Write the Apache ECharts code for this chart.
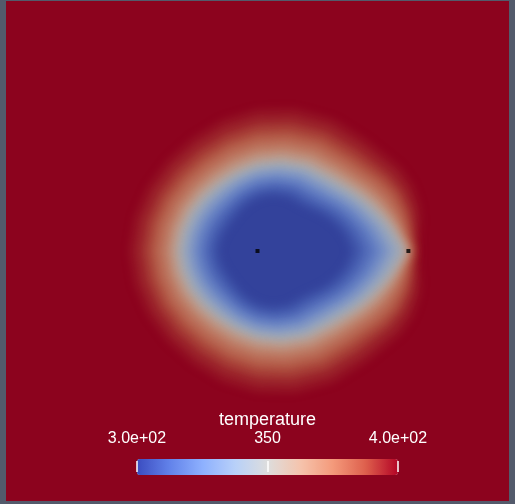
<!DOCTYPE html>
<html><head><meta charset="utf-8">
<style>html,body{margin:0;padding:0;background:#535a6b}#c{width:515px;height:504px}</style>
<script src="https://cdn.jsdelivr.net/npm/echarts@6/dist/echarts.min.js"></script>
</head><body><div id="c"></div>
<script>
// Contour angles (degrees, counter-clockwise from +x, around the domain centre)
const ANGLES = [0,5,10,15,22.5,30,45,60,75,90,105,120,135,150,165,180,195,210,225,240,255,270,285,300,315,330,337.5,345,350,355];
// Contour radii (domain units), one list per temperature level
const r398 = [0.322,0.322,0.329,0.334,0.334,0.328,0.308,0.301,0.291,0.280,0.268,0.257,0.252,0.251,0.252,0.254,0.252,0.251,0.252,0.257,0.268,0.280,0.291,0.301,0.308,0.328,0.334,0.334,0.329,0.322];
const r393 = [0.315,0.312,0.315,0.316,0.313,0.304,0.284,0.276,0.266,0.255,0.243,0.233,0.229,0.228,0.229,0.231,0.229,0.228,0.229,0.233,0.243,0.255,0.266,0.276,0.284,0.304,0.313,0.316,0.315,0.312];
const r387 = [0.310,0.305,0.305,0.305,0.300,0.288,0.266,0.258,0.247,0.236,0.224,0.215,0.211,0.211,0.212,0.214,0.212,0.211,0.211,0.215,0.224,0.236,0.247,0.258,0.266,0.288,0.300,0.305,0.305,0.305];
const r381 = [0.306,0.299,0.297,0.294,0.287,0.274,0.252,0.243,0.232,0.221,0.210,0.201,0.198,0.198,0.199,0.201,0.199,0.198,0.198,0.201,0.210,0.221,0.232,0.243,0.252,0.274,0.287,0.294,0.297,0.299];
const r374 = [0.302,0.293,0.288,0.282,0.271,0.258,0.236,0.227,0.216,0.204,0.193,0.185,0.182,0.182,0.183,0.185,0.183,0.182,0.182,0.185,0.193,0.204,0.216,0.227,0.236,0.258,0.271,0.282,0.288,0.293];
const r367 = [0.299,0.288,0.281,0.273,0.260,0.246,0.224,0.215,0.203,0.192,0.181,0.173,0.170,0.171,0.172,0.174,0.172,0.171,0.170,0.173,0.181,0.192,0.203,0.215,0.224,0.246,0.260,0.273,0.281,0.288];
const r360 = [0.296,0.284,0.275,0.265,0.251,0.236,0.214,0.204,0.193,0.181,0.170,0.163,0.161,0.161,0.163,0.165,0.163,0.161,0.161,0.163,0.170,0.181,0.193,0.204,0.214,0.236,0.251,0.265,0.275,0.284];
const r350 = [0.293,0.280,0.269,0.257,0.241,0.226,0.204,0.194,0.182,0.171,0.160,0.153,0.151,0.152,0.153,0.155,0.153,0.152,0.151,0.153,0.160,0.171,0.182,0.194,0.204,0.226,0.241,0.257,0.269,0.280];
const r342 = [0.279,0.267,0.257,0.246,0.230,0.216,0.194,0.185,0.173,0.162,0.151,0.144,0.141,0.142,0.143,0.145,0.143,0.142,0.141,0.144,0.151,0.162,0.173,0.185,0.194,0.216,0.230,0.246,0.257,0.267];
const r335 = [0.265,0.254,0.245,0.234,0.220,0.205,0.184,0.176,0.165,0.154,0.143,0.135,0.132,0.132,0.133,0.135,0.133,0.132,0.132,0.135,0.143,0.154,0.165,0.176,0.184,0.205,0.220,0.234,0.245,0.254];
const r328 = [0.252,0.242,0.233,0.223,0.209,0.195,0.174,0.166,0.156,0.145,0.134,0.125,0.122,0.122,0.123,0.125,0.123,0.122,0.122,0.125,0.134,0.145,0.156,0.166,0.174,0.195,0.209,0.223,0.233,0.242];
const r320 = [0.235,0.226,0.219,0.209,0.196,0.183,0.162,0.155,0.145,0.135,0.123,0.114,0.110,0.110,0.111,0.113,0.111,0.110,0.110,0.114,0.123,0.135,0.145,0.155,0.162,0.183,0.196,0.209,0.219,0.226];
const r312 = [0.213,0.206,0.199,0.191,0.179,0.166,0.146,0.141,0.132,0.121,0.110,0.100,0.095,0.094,0.095,0.097,0.095,0.094,0.095,0.100,0.110,0.121,0.132,0.141,0.146,0.166,0.179,0.191,0.199,0.206];
const r305 = [0.191,0.185,0.180,0.173,0.162,0.150,0.130,0.126,0.118,0.108,0.096,0.085,0.079,0.078,0.079,0.081,0.079,0.078,0.079,0.085,0.096,0.108,0.118,0.126,0.130,0.150,0.162,0.173,0.180,0.185];
const CONTOURS = [r398,r393,r387,r381,r374,r367,r360,r350,r342,r335,r328,r320,r312,r305];
// temperature inside each contour band
const BAND_VALUES = [395.5,390,384,377.5,370.5,363.5,355,346,338.5,331.5,324,316,308.5,302];
// point sources
const SOURCES = [[0.5,0.5],[0.8,0.5]];
// colour bar
const T_MIN = 300, T_MAX = 400;
const TICKS = [300,350,400];
const TICK_LABELS = ['3.0e+02','350','4.0e+02'];

const COOLWARM = ['#3b4cc0','#6282ea','#8db0fe','#b8d0f9','#dddddd','#f5c4ad','#f49a7b','#de604d','#b40426'];
const COOLWARM_LIT = ['#2e3b96','#4c65b7','#6e89c6','#90a2c2','#acacac','#bf9987','#be7860','#ad4b3c','#8c031e'];

const chart = echarts.init(document.getElementById('c'), null, {renderer:'canvas'});
const SHADOW_SHIFT = 3000; // the filled shape is drawn off-canvas, only its blurred shadow lands in place
chart.setOption({
  backgroundColor:'#535a6b',
  animation:false,
  grid:[
    {left:6, top:1, width:503, height:500, show:true, backgroundColor:'#8c031e', borderWidth:0, outerBoundsMode:'none'},
    {left:137, top:459, width:261, height:16, show:false, outerBoundsMode:'none'}
  ],
  xAxis:[
    {gridIndex:0, type:'value', min:0, max:1, show:false},
    {gridIndex:1, type:'value', min:T_MIN, max:T_MAX, interval:50, position:'top', offset:-3, z:10,
     axisLine:{show:false}, splitLine:{show:false},
     axisTick:{show:true, length:11, lineStyle:{color:'#ffffff', width:1.5}},
     axisLabel:{color:'#ffffff', fontSize:16, fontFamily:'Liberation Sans, Arial, sans-serif', margin:15,
       formatter:function(v){const i=TICKS.indexOf(v); return i>=0?TICK_LABELS[i]:'';}},
     name:'temperature', nameLocation:'middle', nameGap:33,
     nameTextStyle:{color:'#ffffff', fontSize:18, fontFamily:'Liberation Sans, Arial, sans-serif'}}
  ],
  yAxis:[
    {gridIndex:0, type:'value', min:0, max:1, show:false},
    {gridIndex:1, type:'value', min:0, max:1, show:false}
  ],
  polar:{center:[257.5,251], radius:250},
  angleAxis:{type:'value', min:0, max:360, startAngle:0, clockwise:false, show:false},
  radiusAxis:{type:'value', min:0, max:0.5, show:false},
  visualMap:[
    {type:'continuous', show:false, min:T_MIN, max:T_MAX, dimension:0, seriesIndex:0, inRange:{color:COOLWARM_LIT}},
    {type:'continuous', show:true, orient:'horizontal', left:137, top:459, itemWidth:16, itemHeight:261, padding:0,
     min:T_MIN, max:T_MAX, calculable:false, text:null, seriesIndex:[], hoverLink:false, inRange:{color:COOLWARM}}
  ],
  series:[
    {type:'custom', coordinateSystem:'polar', silent:true,
     data: BAND_VALUES.map(v=>[v]),
     renderItem:function(params, api){
       const radii = CONTOURS[params.dataIndex];
       const pts = ANGLES.map((a,i)=>{const p=api.coord([radii[i], a]); return [p[0]+SHADOW_SHIFT, p[1]];});
       const c = api.visual('color');
       return {type:'polygon', shape:{points:pts}, style:{fill:c, shadowBlur:10, shadowColor:c, shadowOffsetX:-SHADOW_SHIFT, shadowOffsetY:0}};
     }},
    {type:'scatter', xAxisIndex:0, yAxisIndex:0, data:SOURCES, symbol:'rect', symbolSize:4, itemStyle:{color:'#000000'}, silent:true, z:5}
  ]
});
</script></body></html>
